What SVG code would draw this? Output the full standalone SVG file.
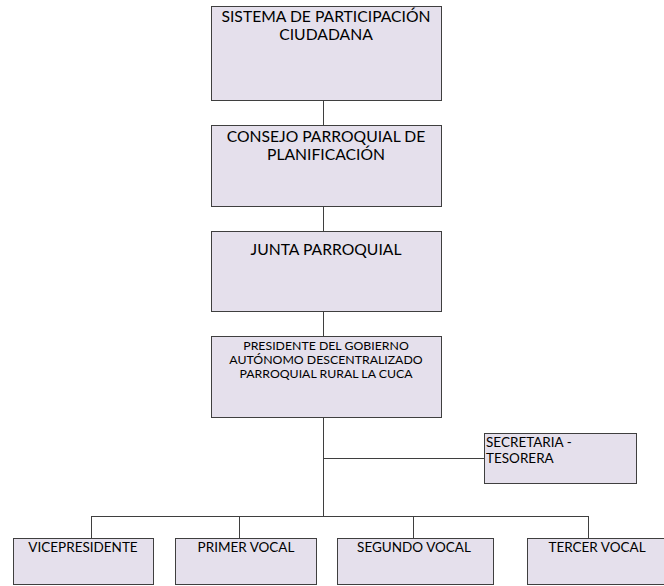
<svg xmlns="http://www.w3.org/2000/svg" width="664" height="586" viewBox="0 0 664 586">
<style>
.box{fill:#e5e0ec;stroke:#3f3f3f;stroke-width:1}
.ln{stroke:#3f3f3f;stroke-width:1;fill:none}
text{font-family:Lato,"Liberation Sans",sans-serif;fill:#000}
.big{font-size:15.7px;text-anchor:middle}
.mid{font-size:12.3px;text-anchor:middle}
.sm{font-size:13.5px}
.c{text-anchor:middle}
</style>
<rect width="664" height="586" fill="#fff"/>
<g id="connectors">
<path class="ln" d="M323.5 100V125M323.5 206V231M323.5 311V336M323.5 417V516M323.5 458.5H484M91.5 516.5H588.5M91.5 516V538M239.5 516V538M413.5 516V538M588.5 516V538"/>
</g>
<g id="n1"><rect class="box" x="211.5" y="6.5" width="230" height="94"/>
<text class="big" x="326" y="22">SISTEMA DE PARTICIPACIÓN</text>
<text class="big" x="326" y="40">CIUDADANA</text></g>
<g id="n2"><rect class="box" x="211.5" y="125.5" width="230" height="81"/>
<text class="big" x="326" y="142">CONSEJO PARROQUIAL DE</text>
<text class="big" x="326" y="160">PLANIFICACIÓN</text></g>
<g id="n3"><rect class="box" x="211.5" y="231.5" width="230" height="80"/>
<text class="big" x="326" y="255">JUNTA PARROQUIAL</text></g>
<g id="n4"><rect class="box" x="211.5" y="336.5" width="230" height="81"/>
<text class="mid" x="326" y="350">PRESIDENTE DEL GOBIERNO</text>
<text class="mid" x="326" y="364">AUTÓNOMO DESCENTRALIZADO</text>
<text class="mid" x="326" y="378">PARROQUIAL RURAL LA CUCA</text></g>
<g id="n5"><rect class="box" x="484.5" y="433.5" width="152" height="50"/>
<text class="sm" x="486" y="447">SECRETARIA -</text>
<text class="sm" x="486" y="463">TESORERA</text></g>
<g id="n6"><rect class="box" x="13.5" y="538.5" width="140" height="46"/>
<text class="sm c" x="83" y="552">VICEPRESIDENTE</text></g>
<g id="n7"><rect class="box" x="175.5" y="538.5" width="141" height="46"/>
<text class="sm c" x="246" y="552">PRIMER VOCAL</text></g>
<g id="n8"><rect class="box" x="337.5" y="538.5" width="156" height="46"/>
<text class="sm c" x="414" y="552">SEGUNDO VOCAL</text></g>
<g id="n9"><rect class="box" x="527.5" y="538.5" width="140" height="46"/>
<text class="sm c" x="597" y="552">TERCER VOCAL</text></g>
</svg>
